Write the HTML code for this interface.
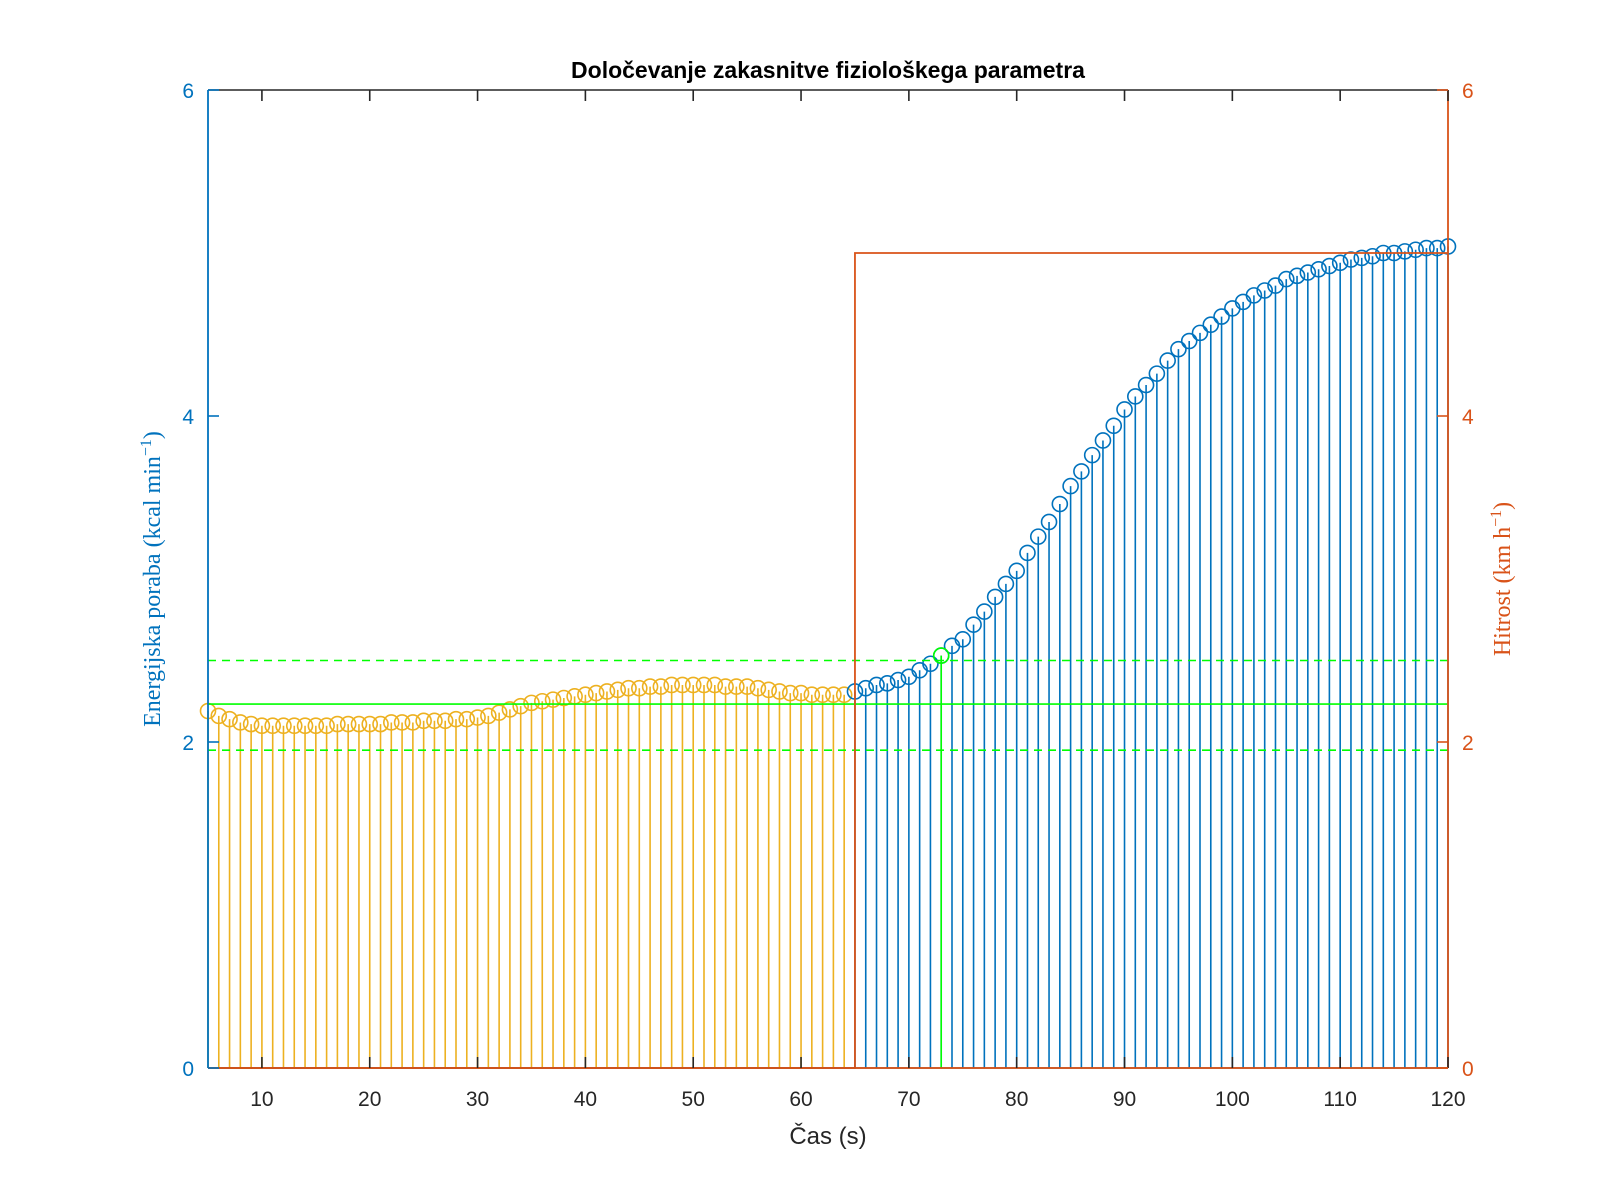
<!DOCTYPE html>
<html><head><meta charset="utf-8"><style>html,body{margin:0;padding:0;background:#fff}svg{display:block}</style></head>
<body>
<svg id="chart" width="1600" height="1200" viewBox="0 0 1600 1200" xmlns="http://www.w3.org/2000/svg">
<rect width="1600" height="1200" fill="#fff"/>
<g id="plot"></g>
</svg>
<script>
const orangeX = [5,6,7,8,9,10,11,12,13,14,15,16,17,18,19,20,21,22,23,24,25,26,27,28,29,30,31,32,33,34,35,36,37,38,39,40,41,42,43,44,45,46,47,48,49,50,51,52,53,54,55,56,57,58,59,60,61,62,63,64];
const orangeY = [2.19,2.16,2.14,2.12,2.11,2.10,2.10,2.10,2.10,2.10,2.10,2.10,2.11,2.11,2.11,2.11,2.11,2.12,2.12,2.12,2.13,2.13,2.13,2.14,2.14,2.15,2.16,2.18,2.20,2.22,2.24,2.25,2.26,2.27,2.28,2.29,2.30,2.31,2.32,2.33,2.33,2.34,2.34,2.35,2.35,2.35,2.35,2.35,2.34,2.34,2.34,2.33,2.32,2.31,2.30,2.30,2.29,2.29,2.29,2.29];
const blueX = [65,66,67,68,69,70,71,72,73,74,75,76,77,78,79,80,81,82,83,84,85,86,87,88,89,90,91,92,93,94,95,96,97,98,99,100,101,102,103,104,105,106,107,108,109,110,111,112,113,114,115,116,117,118,119,120];
const blueY = [2.31,2.33,2.35,2.36,2.38,2.40,2.44,2.48,2.53,2.59,2.63,2.72,2.80,2.89,2.97,3.05,3.16,3.26,3.35,3.46,3.57,3.66,3.76,3.85,3.94,4.04,4.12,4.19,4.26,4.34,4.41,4.46,4.51,4.56,4.61,4.66,4.70,4.74,4.77,4.80,4.84,4.86,4.88,4.90,4.92,4.94,4.96,4.97,4.98,5.00,5.00,5.01,5.02,5.03,5.03,5.04];
const highlightX = [73];
const highlightY = [2.53];
const speedX = [5,65,65,120];
const speedY = [0,0,5,5];
const meanLevel = [2.233];
const bandLevels = [1.95,2.50];
const xTicks = [10,20,30,40,50,60,70,80,90,100,110,120];
const yTicks = [0,2,4,6];

const L=208,R=1448,T=90,B=1068;
const xs=v=>L+(v-5)/(120-5)*(R-L);
const ys=v=>B-v/6*(B-T);
const NS='http://www.w3.org/2000/svg';
const g=document.getElementById('plot');
function mk(tag,attrs,parent){const e=document.createElementNS(NS,tag);for(const k in attrs)e.setAttribute(k,attrs[k]);(parent||g).appendChild(e);return e;}
const BLUE='#0072BD',ORANGE='#EDB120',RED='#D95319',GREEN='#00FF00';

function stems(X,Y,color,name){
  const grp=mk('g',{});
  
  
  for(let i=0;i<X.length;i++){
    const l=mk('line',{x1:xs(X[i]),x2:xs(X[i]),y1:ys(0),y2:ys(Y[i]),stroke:color,'stroke-width':1.6},grp);
    
    
  }
  for(let i=0;i<X.length;i++){
    const c=mk('circle',{cx:xs(X[i]),cy:ys(Y[i]),r:7.5,fill:'none',stroke:color,'stroke-width':1.6},grp);
    
    
  }
}
stems(orangeX,orangeY,ORANGE,'baseline-stems');
stems(blueX,blueY,BLUE,'response-stems');

const ml=mk('line',{x1:L,x2:R,y1:ys(meanLevel[0]),y2:ys(meanLevel[0]),stroke:GREEN,'stroke-width':1.6});


bandLevels.forEach(v=>{
  const b=mk('line',{x1:L,x2:R,y1:ys(v),y2:ys(v),stroke:GREEN,'stroke-width':1.6,'stroke-dasharray':'8,6'});
  
  
});
stems(highlightX,highlightY,GREEN,'delay-point');

let pts=speedX.map((x,i)=>xs(x)+','+ys(speedY[i])).join(' ');
const sp=mk('polyline',{points:pts,fill:'none',stroke:RED,'stroke-width':1.8});



const topAxis=mk('line',{x1:L,x2:R,y1:T,y2:T,stroke:'#262626','stroke-width':1.6});


const botAxis=mk('line',{x1:L,x2:R,y1:B,y2:B,stroke:'#262626','stroke-width':1.6});


const leftAxis=mk('line',{x1:L,x2:L,y1:T,y2:B,stroke:BLUE,'stroke-width':1.8});


const rightAxis=mk('line',{x1:R,x2:R,y1:T,y2:B,stroke:RED,'stroke-width':1.8});


mk('line',{x1:xs(5),x2:R,y1:B,y2:B,stroke:RED,'stroke-width':1.8});

xTicks.forEach(v=>{
  mk('line',{x1:xs(v),x2:xs(v),y1:B,y2:B-11,stroke:'#262626','stroke-width':1.6});
  mk('line',{x1:xs(v),x2:xs(v),y1:T,y2:T+11,stroke:'#262626','stroke-width':1.6});
  const t=mk('text',{x:xs(v),y:B+38,'text-anchor':'middle','font-family':'Liberation Sans, sans-serif','font-size':21,fill:'#262626'});
  t.textContent=v;
  
  
});
yTicks.forEach(v=>{
  mk('line',{x1:L,x2:L+11,y1:ys(v),y2:ys(v),stroke:BLUE,'stroke-width':1.6});
  mk('line',{x1:R,x2:R-11,y1:ys(v),y2:ys(v),stroke:RED,'stroke-width':1.6});
  const t=mk('text',{x:L-14,y:ys(v)+8,'text-anchor':'end','font-family':'Liberation Sans, sans-serif','font-size':21,fill:BLUE});
  t.textContent=v;
  
  
  const t2=mk('text',{x:R+14,y:ys(v)+8,'text-anchor':'start','font-family':'Liberation Sans, sans-serif','font-size':21,fill:RED});
  t2.textContent=v;
  
  
});
</script>
<svg style="position:absolute;left:0;top:0" width="1600" height="1200" viewBox="0 0 1600 1200" xmlns="http://www.w3.org/2000/svg">
<text x="828" y="78" text-anchor="middle" font-family="Liberation Sans, sans-serif" font-weight="bold" font-size="23" fill="#000">Določevanje zakasnitve fiziološkega parametra</text>
<text x="828" y="1144" text-anchor="middle" font-family="Liberation Sans, sans-serif" font-size="24" fill="#262626">Čas (s)</text>
<text transform="translate(160,579) rotate(-90)" text-anchor="middle" font-family="Liberation Serif, serif" font-size="24" fill="#0072BD">Energijska poraba (kcal min<tspan dy="-9" font-size="16">−1</tspan><tspan dy="9">)</tspan></text>
<text transform="translate(1510,579) rotate(-90)" text-anchor="middle" font-family="Liberation Serif, serif" font-size="24" fill="#D95319">Hitrost (km h<tspan dy="-9" font-size="16">−1</tspan><tspan dy="9">)</tspan></text>
</svg>
</body></html>
